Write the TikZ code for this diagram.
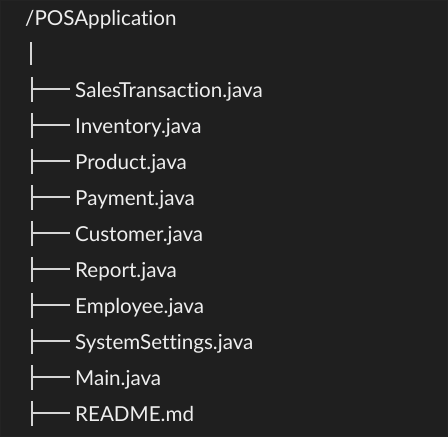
\documentclass[tikz,border=0pt]{standalone}
\usepackage{fontspec}
\setmainfont{Lato}[Ligatures={NoCommon,NoRare}]
\definecolor{bg}{HTML}{1F1F1F}
\definecolor{edge}{HTML}{232323}
\definecolor{fg}{HTML}{EEEEEE}
\begin{document}
\begin{tikzpicture}[x=1pt,y=1pt,
  file/.style={anchor=base west, inner xsep=5pt, inner ysep=0pt, text=fg, font=\fontsize{20.6}{21}\selectfont},
  branch/.style={draw=fg!88!bg, line width=1.6pt}]
\fill[bg] (0,0) rectangle (448,-437);
\draw[edge, line width=1pt] (0.5,-0.5) rectangle (447.5,-436.5);
\useasboundingbox (0,0) rectangle (448,-437);
\node[file, inner xsep=0pt] (root) at (25,-25) {/POSApplication};
\coordinate (t1) at (31,-42);
\coordinate (t2) at (31,-65);
\draw[branch] (t1) -- (t2);
\foreach \name/\lbl [count=\i from 0] in {sales/SalesTransaction.java, inv/Inventory.java, prod/Product.java, pay/Payment.java, cust/Customer.java, rep/Report.java, emp/Employee.java, sys/SystemSettings.java, main/Main.java, readme/README.md} {
  \pgfmathsetmacro\yb{-97-36*\i}
  \node[file] (\name) at (70,\yb) {\lbl};
  \coordinate (\name-top) at (32,{\yb+20});
  \coordinate (\name-bot) at (32,{\yb-5});
  \coordinate (\name-mid) at (32,{\yb+8});
  \draw[branch] (\name-top) -- (\name-bot);
  \draw[branch] (\name-mid) -- (\name-mid -| \name.west);
}
\end{tikzpicture}
\end{document}
